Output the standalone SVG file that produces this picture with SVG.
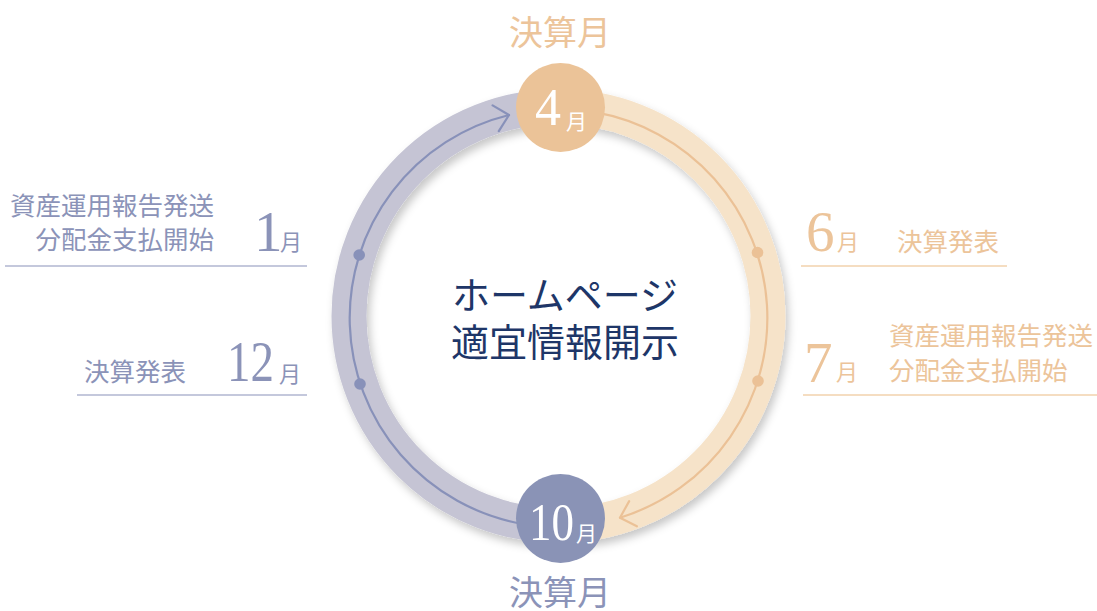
<svg xmlns="http://www.w3.org/2000/svg" width="1097" height="611" viewBox="0 0 1097 611">
<defs>
<style>
.jp{font-family:"Noto Sans CJK JP","Noto Sans",sans-serif}
.num{font-family:"Liberation Serif",serif}
.pu{fill:#8b93b8}
.or{fill:#ecc49a}
.lbl{font-size:25.5px}
.tline{fill:none;stroke-width:2.2;stroke-linecap:round;stroke-linejoin:round}
</style>
<filter id="sh" x="-20%" y="-20%" width="140%" height="140%">
<feGaussianBlur in="SourceAlpha" stdDeviation="4"/>
<feOffset dx="3" dy="5" result="b"/>
<feFlood flood-color="#000" flood-opacity="0.22"/>
<feComposite in2="b" operator="in"/>
<feMerge><feMergeNode/><feMergeNode in="SourceGraphic"/></feMerge>
</filter>
</defs>
<rect width="1097" height="611" fill="#ffffff"/>

<g id="ring" filter="url(#sh)">
<path d="M558.5 525.5 A209.5 209.5 0 0 1 558.5 106.5" fill="none" stroke="#c5c4d4" stroke-width="35"/>
<path d="M558.5 106.5 A209.5 209.5 0 0 1 558.5 525.5" fill="none" stroke="#f6e3c9" stroke-width="35"/>
</g>

<g id="connectors">
<path class="tline" d="M522.2 523.8 A209 209 0 0 1 509 115" stroke="#8891b9"/>
<polyline class="tline" points="492.6,105.4 509,115 498.8,131.1" stroke="#8891b9"/>
<path class="tline" d="M594.8 112.2 A209 209 0 0 1 620 517.7" stroke="#ebc196"/>
<polyline class="tline" points="629.2,501.1 620,517.7 636.9,526.3" stroke="#ebc196"/>
<circle cx="359.2" cy="255" r="5.8" fill="#8891b9"/>
<circle cx="360" cy="384" r="5.8" fill="#8891b9"/>
<circle cx="757.5" cy="252.5" r="5.8" fill="#ebc196"/>
<circle cx="758" cy="381" r="5.8" fill="#ebc196"/>
</g>

<g id="node-apr">
<circle cx="560.5" cy="107.5" r="44.5" fill="#ebc398"/>
<text class="num" x="535" y="125" font-size="52" fill="#ffffff">4</text>
<text class="jp" x="566" y="129" font-size="21" fill="#ffffff">月</text>
<text class="jp or" x="560" y="45" font-size="34" text-anchor="middle">決算月</text>
</g>

<g id="node-oct">
<circle cx="560.5" cy="518.5" r="44.5" fill="#8a93b6"/>
<text class="num" x="529" y="540" font-size="52" fill="#ffffff" textLength="45" lengthAdjust="spacingAndGlyphs">10</text>
<text class="jp" x="576" y="541" font-size="21" fill="#ffffff">月</text>
<text class="jp pu" x="560" y="605" font-size="34" text-anchor="middle">決算月</text>
</g>

<g id="center">
<text class="jp" x="565" y="309" font-size="38" fill="#1e3668" text-anchor="middle">ホームページ</text>
<text class="jp" x="565" y="356" font-size="38" fill="#1e3668" text-anchor="middle">適宜情報開示</text>
</g>

<g id="jan">
<text class="jp pu lbl" x="214" y="215" text-anchor="end">資産運用報告発送</text>
<text class="jp pu lbl" x="214" y="249" text-anchor="end">分配金支払開始</text>
<text class="num pu" x="254" y="251" font-size="57">1</text>
<text class="jp pu" x="280" y="250" font-size="22">月</text>
<line x1="5" y1="266" x2="307" y2="266" stroke="#c4c8dc" stroke-width="2"/>
</g>

<g id="dec">
<text class="jp pu lbl" x="84" y="381">決算発表</text>
<text class="num pu" x="227" y="381" font-size="57" textLength="47" lengthAdjust="spacingAndGlyphs">12</text>
<text class="jp pu" x="279" y="382" font-size="22">月</text>
<line x1="77" y1="395" x2="307" y2="395" stroke="#c4c8dc" stroke-width="2"/>
</g>

<g id="jun">
<text class="num or" x="806" y="251" font-size="57">6</text>
<text class="jp or" x="837" y="250" font-size="22">月</text>
<text class="jp or lbl" x="897" y="251">決算発表</text>
<line x1="801" y1="266" x2="1007" y2="266" stroke="#f5ddc1" stroke-width="2"/>
</g>

<g id="jul">
<text class="num or" x="804" y="382" font-size="57">7</text>
<text class="jp or" x="836" y="380" font-size="22">月</text>
<text class="jp or lbl" x="889" y="345">資産運用報告発送</text>
<text class="jp or lbl" x="889" y="380">分配金支払開始</text>
<line x1="803" y1="395" x2="1097" y2="395" stroke="#f5ddc1" stroke-width="2"/>
</g>
</svg>
